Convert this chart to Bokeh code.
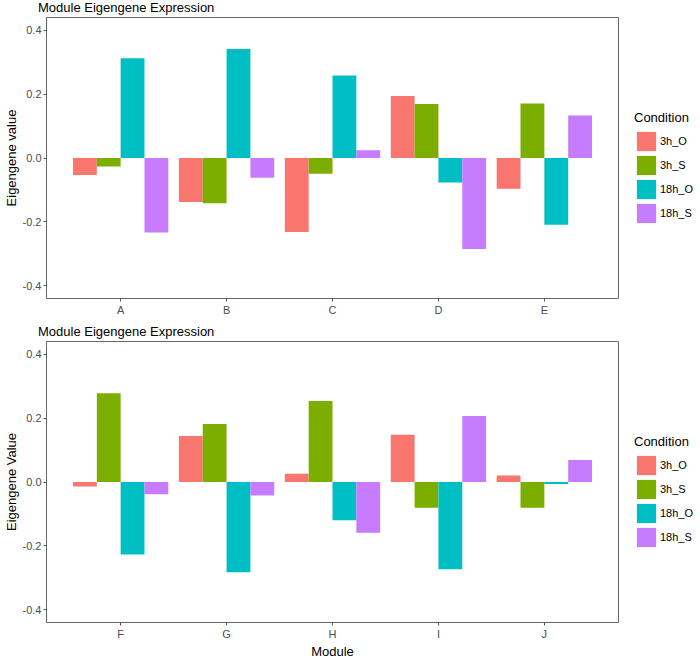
from bokeh.plotting import figure
from bokeh.models import (FactorRange, Range1d, FixedTicker, Legend, LegendItem,
                          ColumnDataSource, Div)
from bokeh.transform import dodge
from bokeh.layouts import column
from bokeh.embed import file_html
from bokeh.resources import INLINE

FONT = "Liberation Sans"

conditions = ["3h_O", "3h_S", "18h_O", "18h_S"]
colors = ["#F8766D", "#7CAE00", "#00BFC4", "#C77CFF"]

modules_top = ["A", "B", "C", "D", "E"]
top_3h_O = [-0.053, -0.138, -0.232, 0.194, -0.096]
top_3h_S = [-0.027, -0.142, -0.049, 0.169, 0.171]
top_18h_O = [0.312, 0.341, 0.258, -0.077, -0.209]
top_18h_S = [-0.233, -0.062, 0.024, -0.285, 0.133]

modules_bottom = ["F", "G", "H", "I", "J"]
bot_3h_O = [-0.014, 0.144, 0.026, 0.148, 0.020]
bot_3h_S = [0.278, 0.182, 0.254, -0.081, -0.081]
bot_18h_O = [-0.227, -0.283, -0.120, -0.273, -0.006]
bot_18h_S = [-0.038, -0.042, -0.159, 0.207, 0.069]

y_ticks = [-0.4, -0.2, 0.0, 0.2, 0.4]
y_tick_labels = ["-0.4", "-0.2", "0.0", "0.2", "0.4"]

title_text = "Module Eigengene Expression"
legend_title = "Condition"

FRAME_W = 572
FRAME_H = 281


def make_title():
    return Div(text=title_text, width=640, height=16, margin=(0, 0, 0, 38),
               styles={"font-family": FONT, "font-size": "13px",
                       "color": "black", "line-height": "15px",
                       "white-space": "nowrap"})


def make_panel(modules, series, ylabel, xlabel, min_border_bottom):
    p = figure(x_range=FactorRange(factors=modules, range_padding=0.2,
                                   range_padding_units="absolute"),
               y_range=Range1d(-0.44, 0.44),
               frame_width=FRAME_W, frame_height=FRAME_H,
               output_backend="svg", toolbar_location=None,
               min_border_bottom=min_border_bottom,
               min_border_left=4, min_border_right=72, min_border_top=1)
    data = dict(module=modules)
    for c, vals in zip(conditions, series):
        data[c] = vals
    src = ColumnDataSource(data)
    offsets = [-0.3375, -0.1125, 0.1125, 0.3375]
    items = []
    for c, col, off in zip(conditions, colors, offsets):
        r = p.vbar(x=dodge("module", off, range=p.x_range), top=c, bottom=0,
                   width=0.225, source=src, fill_color=col, line_color=None)
        items.append(LegendItem(label=c, renderers=[r]))

    p.xgrid.visible = False
    p.ygrid.visible = False
    p.outline_line_color = "#666666"
    p.outline_line_width = 1
    p.background_fill_color = "white"
    p.border_fill_color = "white"

    p.yaxis.ticker = FixedTicker(ticks=y_ticks)
    p.yaxis.major_label_overrides = {t: l for t, l in zip(y_ticks, y_tick_labels)}
    p.yaxis.axis_label = ylabel
    if xlabel:
        p.xaxis.axis_label = xlabel
    for ax in (p.xaxis[0], p.yaxis[0]):
        ax.axis_line_color = None
        ax.major_tick_line_color = "#555555"
        ax.major_tick_in = 0
        ax.major_tick_out = 3
        ax.minor_tick_line_color = None
        ax.major_label_text_font = FONT
        ax.major_label_text_font_size = "11px"
        ax.major_label_text_color = "#4D4D4D"
        ax.major_label_standoff = 2
        ax.axis_label_text_font = FONT
        ax.axis_label_text_font_size = "13px"
        ax.axis_label_text_font_style = "normal"
        ax.axis_label_text_color = "black"
        ax.axis_label_standoff = 1

    legend = Legend(items=items, title=legend_title,
                    location=(16, 73), orientation="vertical")
    legend.title_text_font = FONT
    legend.title_text_font_size = "13px"
    legend.title_text_font_style = "normal"
    legend.title_text_color = "black"
    legend.title_standoff = 4
    legend.label_text_font = FONT
    legend.label_text_font_size = "11px"
    legend.label_text_color = "black"
    legend.label_standoff = 2
    legend.glyph_width = 24
    legend.glyph_height = 24
    legend.spacing = -3
    legend.padding = 0
    legend.margin = 0
    legend.border_line_color = None
    legend.background_fill_alpha = 0
    p.add_layout(legend, "right")
    return p


p1 = make_panel(modules_top, [top_3h_O, top_3h_S, top_18h_O, top_18h_S],
                "Eigengene value", None, 26)
p2 = make_panel(modules_bottom, [bot_3h_O, bot_3h_S, bot_18h_O, bot_18h_S],
                "Eigengene Value", "Module", 5)

layout = column(make_title(), p1, make_title(), p2, spacing=0)
open("out.html", "w").write(file_html(layout, INLINE))
